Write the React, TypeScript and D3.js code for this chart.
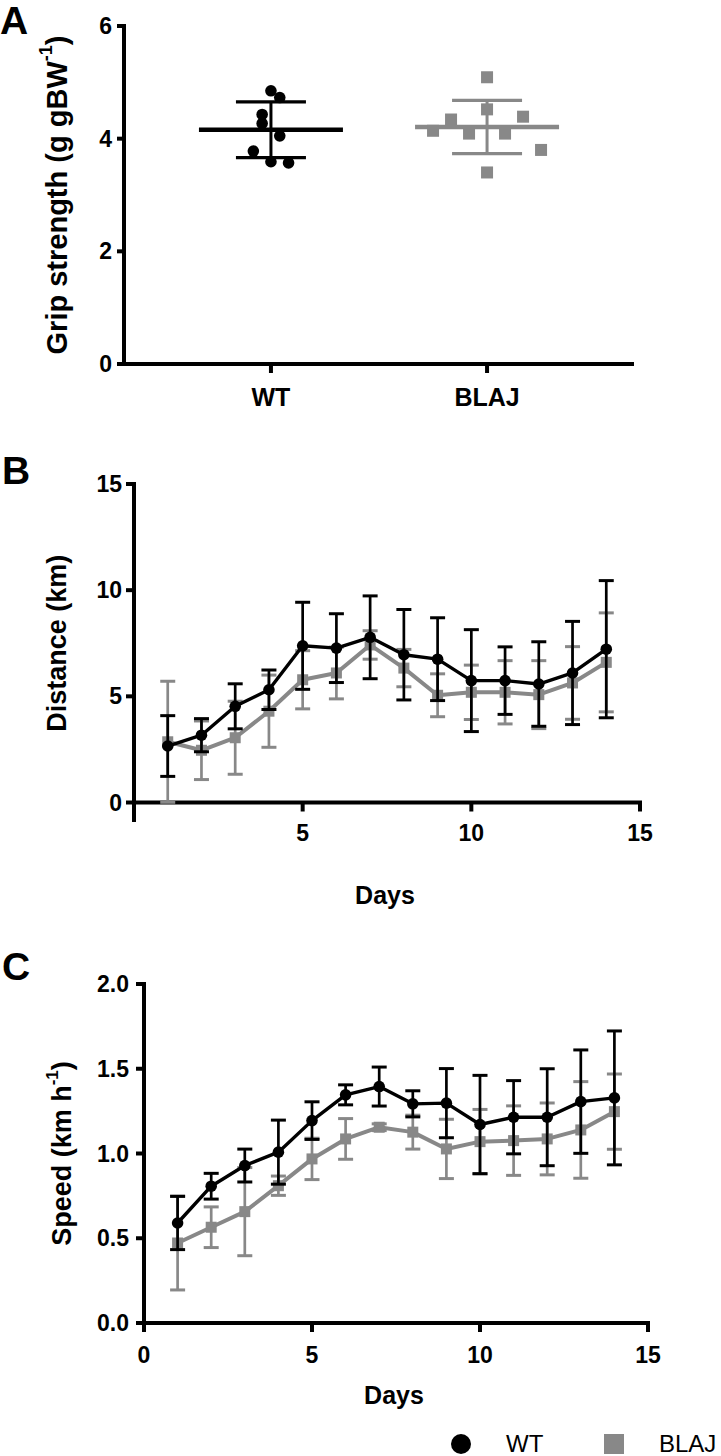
import React from "react";
import * as d3 from "d3";

// ---------- Panel A data ----------
const groups = ["WT", "BLAJ"];
const gripWT = [4.85, 4.73, 4.43, 4.27, 4.05, 3.78, 3.59, 3.57];
const gripWTSlot = [0, 1, -1, -1, 1, -2, 0, 2];
const gripBLAJ = [5.09, 4.52, 4.34, 4.39, 4.14, 4.09, 4.09, 3.8, 3.4];
const gripBLAJSlot = [0, 0, -2, 2, -3, -1, 1, 3, 0];
const gripTicks = [0, 2, 4, 6];

// ---------- Panel B / C data ----------
const days = [1, 2, 3, 4, 5, 6, 7, 8, 9, 10, 11, 12, 13, 14];
const distWT = [2.66, 3.17, 4.53, 5.31, 7.38, 7.27, 7.78, 6.96, 6.75, 5.74, 5.74, 5.58, 6.1, 7.22];
const distWTsd = [1.43, 0.78, 1.06, 0.93, 2.05, 1.62, 1.95, 2.13, 1.95, 2.4, 1.59, 1.99, 2.43, 3.23];
const distBLAJ = [2.86, 2.46, 3.05, 4.3, 5.78, 6.1, 7.42, 6.33, 5.05, 5.19, 5.19, 5.08, 5.63, 6.6];
const distBLAJsd = [2.85, 1.38, 1.72, 1.7, 1.37, 1.22, 0.67, 0.88, 1.01, 1.28, 1.49, 1.6, 1.71, 2.33];
const distYTicks = [0, 5, 10, 15];
const distXTicks = [5, 10, 15];

const speedWT = [0.59, 0.807, 0.929, 1.008, 1.194, 1.346, 1.395, 1.293, 1.297, 1.171, 1.214, 1.214, 1.306, 1.328];
const speedWTsd = [0.157, 0.076, 0.097, 0.189, 0.111, 0.059, 0.115, 0.077, 0.204, 0.29, 0.216, 0.286, 0.305, 0.395];
const speedBLAJ = [0.472, 0.565, 0.657, 0.81, 0.968, 1.086, 1.155, 1.126, 1.027, 1.07, 1.076, 1.086, 1.139, 1.247];
const speedBLAJsd = [0.277, 0.12, 0.26, 0.057, 0.122, 0.12, 0.02, 0.1, 0.175, 0.19, 0.205, 0.212, 0.285, 0.222];
const speedYTicks = [0, 0.5, 1.0, 1.5, 2.0];
const speedXTicks = [0, 5, 10, 15];

const BLACK = "#000";
const GRAY = "#888888";
const FONT = "'Liberation Sans', Arial, Helvetica, sans-serif";
const AXW = 4;

function SeriesLine({ x, y, means, sds, color, marker, lineW }) {
  const pts = days.map((d, i) => [x(d), y(means[i])]);
  const line = d3.line()(pts as any);
  const cap = 7.5;
  return (
    <g>
      {days.map((d, i) => {
        const cx = x(d);
        const yt = y(means[i] + sds[i]);
        const yb = y(Math.max(0, means[i] - sds[i]));
        return (
          <g key={i} stroke={color} strokeWidth={2.7}>
            <line x1={cx} x2={cx} y1={yt} y2={yb} />
            <line x1={cx - cap} x2={cx + cap} y1={yt} y2={yt} strokeWidth={3} />
            <line x1={cx - cap} x2={cx + cap} y1={yb} y2={yb} strokeWidth={3} />
          </g>
        );
      })}
      <path d={line || ""} fill="none" stroke={color} strokeWidth={lineW} strokeLinejoin="round" />
      {pts.map((p, i) =>
        marker === "circle" ? (
          <circle key={i} cx={p[0]} cy={p[1]} r={5.8} fill={color} />
        ) : (
          <rect key={i} x={p[0] - 5.5} y={p[1] - 5.5} width={11} height={11} fill={color} />
        )
      )}
    </g>
  );
}

function LinePanel({ x, y, yTicks, xTicks, yFmt, yAxisBottom, xLabelY, daysY, titleX, title, letter, letterY,
  wt, wtsd, bl, blsd, tickLabelRight }) {
  const [y0, y1] = y.range();
  const [x0, x1] = x.range();
  return (
    <g fontFamily={FONT} fontWeight="bold">
      <text x={2} y={letterY} fontSize={39} dominantBaseline="central">{letter}</text>
      {/* y axis */}
      <line x1={x0} x2={x0} y1={y1 - AXW / 2} y2={yAxisBottom} stroke={BLACK} strokeWidth={AXW} />
      {yTicks.map((t) => (
        <g key={t}>
          <line x1={x0 - 8} x2={x0} y1={y(t)} y2={y(t)} stroke={BLACK} strokeWidth={AXW} />
          <text x={tickLabelRight} y={y(t)} fontSize={23} textAnchor="end" dominantBaseline="central">{yFmt(t)}</text>
        </g>
      ))}
      {/* x axis */}
      <line x1={x0 - AXW / 2} x2={x1 + AXW / 2} y1={y0} y2={y0} stroke={BLACK} strokeWidth={AXW} />
      {xTicks.map((t) => (
        <g key={t}>
          <line x1={x(t)} x2={x(t)} y1={y0} y2={y0 + 9} stroke={BLACK} strokeWidth={AXW} />
          <text x={x(t)} y={xLabelY} fontSize={23} textAnchor="middle" dominantBaseline="central">{t}</text>
        </g>
      ))}
      <text x={(x0 + x1) / 2 - 2} y={daysY} fontSize={25} textAnchor="middle" dominantBaseline="central">Days</text>
      <text transform={`translate(${titleX},${(y0 + y1) / 2}) rotate(-90)`} fontSize={27} textAnchor="middle" dominantBaseline="central">{title}</text>
      <SeriesLine x={x} y={y} means={bl} sds={blsd} color={GRAY} marker="square" lineW={4} />
      <SeriesLine x={x} y={y} means={wt} sds={wtsd} color={BLACK} marker="circle" lineW={3.4} />
    </g>
  );
}

export default function App() {
  // Panel A scales
  const xA = d3.scalePoint<string>().domain(groups).range([124, 634]).padding(0.68);
  const yA = d3.scaleLinear().domain([0, 6]).range([364, 26]);
  const stepWT = 8.8;
  const stepBL = 18;

  const stat = (arr: number[]) => {
    const m = d3.mean(arr) as number;
    const s = d3.deviation(arr) as number;
    return { m, s };
  };
  const sWT = stat(gripWT);
  const sBL = stat(gripBLAJ);

  // Panel B scales
  const xB = d3.scaleLinear().domain([0, 15]).range([134, 640]);
  const yB = d3.scaleLinear().domain([0, 15]).range([802.5, 484]);
  // Panel C scales
  const xC = d3.scaleLinear().domain([0, 15]).range([144, 648]);
  const yC = d3.scaleLinear().domain([0, 2]).range([1323, 984]);

  const meanSD = (cx: number, st: { m: number; s: number }, color: string) => (
    <g stroke={color}>
      <line x1={cx - 72} x2={cx + 72} y1={yA(st.m)} y2={yA(st.m)} strokeWidth={4.5} />
      <line x1={cx} x2={cx} y1={yA(st.m + st.s)} y2={yA(st.m - st.s)} strokeWidth={3} />
      <line x1={cx - 35} x2={cx + 35} y1={yA(st.m + st.s)} y2={yA(st.m + st.s)} strokeWidth={3.2} />
      <line x1={cx - 35} x2={cx + 35} y1={yA(st.m - st.s)} y2={yA(st.m - st.s)} strokeWidth={3.2} />
    </g>
  );

  const cxWT = xA("WT") as number;
  const cxBL = xA("BLAJ") as number;

  return (
    <svg width={721} height={1456} style={{ position: "absolute", left: 0, top: 0, background: "#fff" }}>
      <rect width={721} height={1456} fill="#fff" />
      {/* Panel A */}
      <g fontFamily={FONT} fontWeight="bold">
        <text x={0} y={20} fontSize={39} dominantBaseline="central">A</text>
        <line x1={124} x2={124} y1={yA(6) - AXW / 2} y2={yA(0)} stroke={BLACK} strokeWidth={AXW} />
        {gripTicks.map((t) => (
          <g key={t}>
            <line x1={117} x2={124} y1={yA(t)} y2={yA(t)} stroke={BLACK} strokeWidth={AXW} />
            <text x={112} y={yA(t)} fontSize={23} textAnchor="end" dominantBaseline="central">{t}</text>
          </g>
        ))}
        <line x1={124 - AXW / 2} x2={634} y1={yA(0)} y2={yA(0)} stroke={BLACK} strokeWidth={AXW} />
        {groups.map((g) => (
          <g key={g}>
            <line x1={xA(g)} x2={xA(g)} y1={yA(0)} y2={yA(0) + 9} stroke={BLACK} strokeWidth={AXW} />
            <text x={xA(g)} y={397} fontSize={25} textAnchor="middle" dominantBaseline="central">{g}</text>
          </g>
        ))}
        <text transform={`translate(57,${(yA(0) + yA(6)) / 2}) rotate(-90)`} fontSize={29} textAnchor="middle" dominantBaseline="central">
          Grip strength (g gBW<tspan dy={-11} fontSize={18}>-1</tspan><tspan dy={11}>)</tspan>
        </text>
        {meanSD(cxWT, sWT, BLACK)}
        {meanSD(cxBL, sBL, GRAY)}
        {gripWT.map((v, i) => (
          <circle key={i} cx={cxWT + gripWTSlot[i] * stepWT} cy={yA(v)} r={5.8} fill={BLACK} />
        ))}
        {gripBLAJ.map((v, i) => (
          <rect key={i} x={cxBL + gripBLAJSlot[i] * stepBL - 6} y={yA(v) - 6} width={12} height={12} fill={GRAY} />
        ))}
      </g>

      {/* Panel B */}
      <LinePanel x={xB} y={yB} yTicks={distYTicks} xTicks={distXTicks} yFmt={(t) => String(t)}
        yAxisBottom={822} xLabelY={833} daysY={895} titleX={57} title="Distance (km)" letter="B" letterY={470}
        wt={distWT} wtsd={distWTsd} bl={distBLAJ} blsd={distBLAJsd} tickLabelRight={122} />

      {/* Panel C */}
      <g>
        <LinePanel x={xC} y={yC} yTicks={speedYTicks} xTicks={speedXTicks} yFmt={d3.format(".1f")}
          yAxisBottom={1323} xLabelY={1355} daysY={1395} titleX={62} title="" letter="C" letterY={966}
          wt={speedWT} wtsd={speedWTsd} bl={speedBLAJ} blsd={speedBLAJsd} tickLabelRight={129} />
        <text transform={`translate(62,${(yC(0) + yC(2)) / 2}) rotate(-90)`} fontSize={27} fontFamily={FONT} fontWeight="bold" textAnchor="middle" dominantBaseline="central">
          Speed (km h<tspan dy={-10} fontSize={17}>-1</tspan><tspan dy={10}>)</tspan>
        </text>
      </g>

      {/* Legend */}
      <g fontFamily={FONT}>
        <circle cx={461} cy={1444} r={10} fill={BLACK} />
        <text x={506} y={1443} fontSize={24} dominantBaseline="central">WT</text>
        <rect x={604} y={1434} width={20} height={20} fill={GRAY} />
        <text x={659} y={1443} fontSize={24} dominantBaseline="central">BLAJ</text>
      </g>
    </svg>
  );
}
